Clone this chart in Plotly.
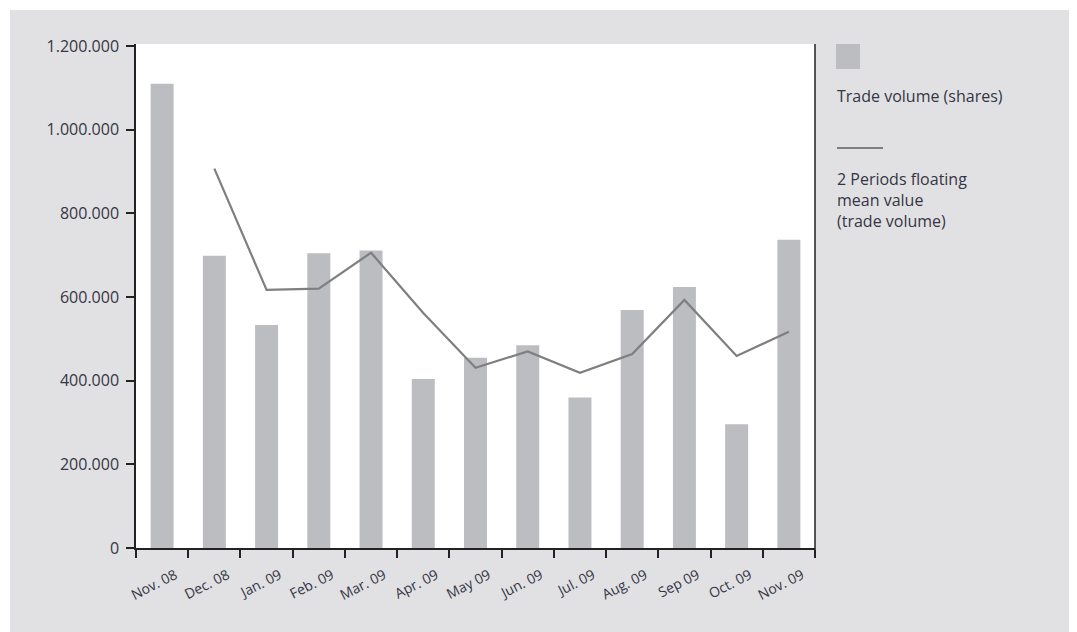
import plotly.graph_objects as go

months = ["Nov. 08", "Dec. 08", "Jan. 09", "Feb. 09", "Mar. 09", "Apr. 09", "May 09",
          "Jun. 09", "Jul. 09", "Aug. 09", "Sep 09", "Oct. 09", "Nov. 09"]
trade_volume = [1110000, 699000, 533000, 705000, 711000, 404000, 455000,
                485000, 360000, 569000, 624000, 296000, 737000]
mean_months = months[1:]
floating_mean = [907000, 617000, 620000, 706000, 562000, 431000,
                 470000, 419000, 464000, 593000, 459000, 517000]
y_ticks = [0, 200000, 400000, 600000, 800000, 1000000, 1200000]

OFF = 8  # default body margin of the html page
SW, SH = 1077, 632
W, H = SW - OFF, SH - OFF
# plot area in screen pixels
SL, SR, ST, SB = 136, 815, 44, 548
L, R, T, B = SL - OFF, SW - SR, ST - OFF, SH - SB
pw, ph = SR - SL, SB - ST

def px(x):  # screen x -> paper
    return (x - SL) / pw

def py(y):  # screen y -> paper
    return (SB - y) / ph

BG = "#e1e1e3"
TXT = "#353545"
FONT = "Open Sans, Noto Sans, sans-serif"

fig = go.Figure()
fig.add_trace(go.Bar(x=months, y=trade_volume, marker=dict(color="#bcbdc1", line_width=0),
                     width=0.44, name="Trade volume (shares)", showlegend=False))
fig.add_trace(go.Scatter(x=mean_months, y=floating_mean, mode="lines",
                         line=dict(color="#7f7f80", width=2.2),
                         name="2 Periods floating mean value (trade volume)", showlegend=False))

shapes = [
    # white page edges (reference grey panel starts at 10px)
    dict(type="rect", xref="paper", yref="paper", x0=px(OFF - 1), x1=px(10), y0=py(SH + 2), y1=py(OFF - 1),
         fillcolor="white", line_width=0, layer="above"),
    dict(type="rect", xref="paper", yref="paper", x0=px(OFF - 1), x1=px(SW + 2), y0=py(10), y1=py(OFF - 1),
         fillcolor="white", line_width=0, layer="above"),
    # right frame line
    dict(type="line", xref="paper", yref="paper", x0=1, x1=1, y0=py(556), y1=1,
         line=dict(color="#222222", width=1.5), layer="above"),
    # legend swatches
    dict(type="rect", xref="paper", yref="paper", x0=px(836), x1=px(860), y0=py(69), y1=py(44),
         fillcolor="#bcbdc1", line_width=0),
    dict(type="line", xref="paper", yref="paper", x0=px(837), x1=px(883), y0=py(148), y1=py(148),
         line=dict(color="#7f7f80", width=2.2)),
]

annotations = [
    dict(xref="paper", yref="paper", x=px(835), y=py(96), xanchor="left", yanchor="middle",
         text="Trade volume (shares)", showarrow=False, align="left",
         font=dict(family=FONT, size=16, color=TXT)),
    dict(xref="paper", yref="paper", x=px(835), y=py(166), xanchor="left", yanchor="top",
         text="2 Periods floating<br>mean value<br>(trade volume)", showarrow=False, align="left",
         font=dict(family=FONT, size=16, color=TXT)),
]

fig.update_layout(
    width=W, height=H,
    margin=dict(l=L, r=R, t=T, b=B, autoexpand=False),
    paper_bgcolor=BG, plot_bgcolor="white",
    separators=",.",
    font=dict(family=FONT, color=TXT, size=14),
    shapes=shapes, annotations=annotations,
    xaxis=dict(type="category", categoryorder="array", categoryarray=months,
               tickson="boundaries", ticks="outside", ticklen=8, tickwidth=1.5, tickcolor="#222222",
               showline=True, linecolor="#222222", linewidth=1.5, showgrid=False,
               tickangle=-27, tickfont=dict(size=14), range=[-0.5, len(months) - 0.5],
               ticklabelstandoff=12, ticklabelshift=13),
    yaxis=dict(range=[0, 1205000], tickvals=y_ticks, tickformat=",d",
               ticks="outside", ticklen=8, tickwidth=1.5, tickcolor="#222222",
               showline=True, linecolor="#222222", linewidth=1.5, showgrid=False, zeroline=False,
               tickfont=dict(size=16), ticklabelstandoff=4),
)

fig.write_html("out.html")
